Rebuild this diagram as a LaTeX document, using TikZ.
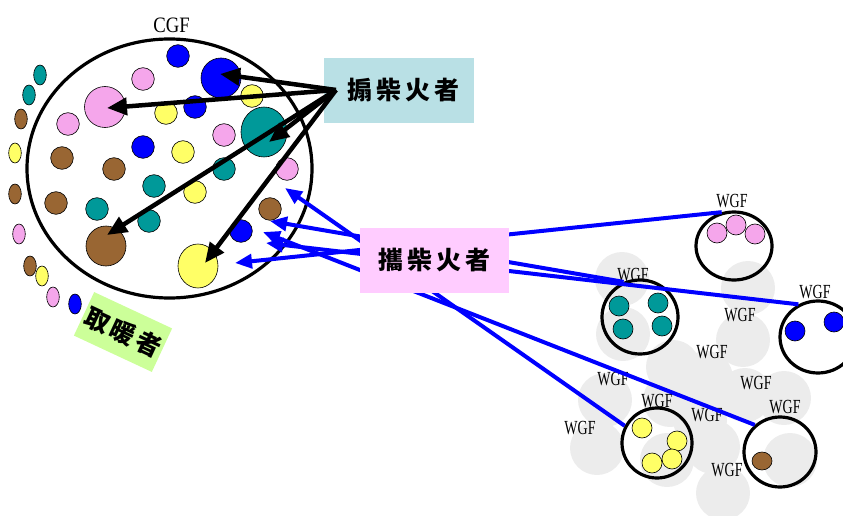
\documentclass[tikz,border=0pt]{standalone}
\usepackage{fontspec}
\setmainfont{Liberation Serif}
\newfontfamily\cjk{Noto Sans CJK TC}
\usetikzlibrary{arrows.meta,shapes.geometric}
\definecolor{pinkc}{RGB}{245,166,235}
\definecolor{yellowc}{RGB}{255,255,102}
\definecolor{tealc}{RGB}{0,153,153}
\definecolor{brownc}{RGB}{153,102,51}
\definecolor{bluec}{RGB}{0,0,255}
\definecolor{boxa}{RGB}{185,224,229}
\definecolor{boxb}{RGB}{255,204,255}
\definecolor{boxc}{RGB}{204,255,153}
\definecolor{blobgray}{RGB}{236,236,236}
\begin{document}
\begin{tikzpicture}[x=1pt,y=-1pt,
  dotc/.style={draw=black,line width=0.6pt},
  wgfc/.style={draw=black,line width=3.2pt,ellipse,inner sep=0},
  lbl/.style={font=\fontsize{20}{20}\selectfont,xscale=0.7,inner sep=0},
  blob/.style={fill=blobgray},
  blk/.style={draw=black,line width=4.5pt,-{Triangle[length=20pt,width=17pt]}},
  blu/.style={draw=bluec,line width=4pt},
  bluarr/.style={blu,-{Triangle[length=17pt,width=14pt]}},
  cjkbox/.style={font=\cjk\bfseries\fontsize{25}{25}\selectfont,inner sep=0,anchor=center}]
\useasboundingbox (0,0) rectangle (843,516);

% gray background blobs
\foreach \p in {(622,279),(623,334),(673,367),(748,288),(743,340),(706,378),(784,398),(713,447),(790,460),(723,493),(605,400),(597,448),(667,460),(670,400),(745,395),(700,420)}
  \fill[blob] \p circle (27);

% CGF ellipse
\node[draw=black,line width=3.2pt,ellipse,minimum width=285,minimum height=259,inner sep=0] (cgf) at (169.5,168.5) {};
\node[font=\fontsize{22}{22}\selectfont,xscale=0.85,inner sep=0] (cgflbl) at (171.5,25.5) {CGF};

% dots inside CGF
\foreach \x/\y/\c in {178/56/bluec,143/79/pinkc,252/96/yellowc,195/107/bluec,166/113/yellowc,68/124/pinkc,224/135/pinkc,143/147/bluec,183/152/yellowc,62/158/brownc,114/169/brownc,287/169/pinkc,224/169/tealc,154/186/tealc,195/192/yellowc,56/203/brownc,97/209/tealc,270/209/brownc,149/221/tealc,241/231/bluec}
  \filldraw[dotc,fill=\c] (\x,\y) circle (11.3);
% big dots
\filldraw[dotc,fill=bluec] (221,78) circle (20);
\filldraw[dotc,fill=pinkc] (105,107) circle (20.5);
\filldraw[dotc,fill=tealc] (264,132) ellipse (23 and 25);
\filldraw[dotc,fill=brownc] (106,246) circle (20);
\filldraw[dotc,fill=yellowc] (198,266) ellipse (20 and 22);

% outside small ellipses
\foreach \x/\y/\c in {40/75/tealc,29/95/tealc,21/119/brownc,15/153/yellowc,15/194/brownc,19/234/pinkc,30/266/brownc,42/276/yellowc,53/297/pinkc,75/304/bluec}
  \filldraw[dotc,fill=\c] (\x,\y) ellipse (6.3 and 10);

% tips inside CGF
\coordinate (tBlue) at (220,74);
\coordinate (tPink) at (107,108);
\coordinate (tTeal) at (269,142);
\coordinate (tBrown) at (107,235);
\coordinate (tYellow) at (205,263);
\coordinate (b1) at (285,188);
\coordinate (b2) at (270,221);
\coordinate (b3) at (263,232);
\coordinate (b4) at (266,243);
\coordinate (b5) at (235,263);

% WGF circles
\node[wgfc,minimum width=76,minimum height=68] (wpink) at (734,246) {};
\node[wgfc,minimum width=76,minimum height=74] (wteal) at (640,317) {};
\node[wgfc,minimum width=76,minimum height=72] (wblue) at (818,337) {};
\node[wgfc,minimum width=70,minimum height=70] (wyellow) at (657,443) {};
\node[wgfc,minimum width=72,minimum height=70] (wbrown) at (780,452) {};

% dots in WGF
\foreach \x/\y in {717/233,736/225,755/234} \filldraw[dotc,fill=pinkc] (\x,\y) circle (10);
\foreach \x/\y in {619/306,658/303,623/329,662/326} \filldraw[dotc,fill=tealc] (\x,\y) circle (10);
\foreach \x/\y in {795/331,834/322} \filldraw[dotc,fill=bluec] (\x,\y) circle (10);
\foreach \x/\y in {642/428,677/441,652/463,672/459} \filldraw[dotc,fill=yellowc] (\x,\y) circle (10);
\filldraw[dotc,fill=brownc] (762,461) ellipse (10 and 9);

% WGF labels
\node[lbl] (l1) at (732,201) {WGF};
\node[lbl] (l2) at (633,275) {WGF};
\node[lbl] (l3) at (815,292) {WGF};
\node[lbl] (l4) at (657,401) {WGF};
\node[lbl] (l5) at (785,407) {WGF};
\node[lbl] (l6) at (740,315) {WGF};
\node[lbl] (l7) at (712,352) {WGF};
\node[lbl] (l8) at (613,379) {WGF};
\node[lbl] (l9) at (756,383) {WGF};
\node[lbl] (l10) at (707,415) {WGF};
\node[lbl] (l11) at (580,428) {WGF};
\node[lbl] (l12) at (727,470) {WGF};

% blue connectors WGF -> CGF
\draw[bluarr] (wpink.110) -- (b5);
\draw[bluarr] (wteal.115) -- (b2);
\draw[bluarr] (wblue.121) -- (b4);
\draw[bluarr] (wyellow.152) -- (b1);
\draw[bluarr] (wbrown.133) -- (b3);

% carrying box
\node[fill=boxb,minimum width=149,minimum height=65,cjkbox] (carry) at (434.5,260.5) {攜\hspace{4pt}柴\hspace{4pt}火\hspace{4pt}者};

% fanning box
\node[fill=boxa,minimum width=150,minimum height=65,cjkbox] (fan) at (399,90.5) {\hspace{8pt}搧\hspace{4pt}柴\hspace{4pt}火\hspace{4pt}者};
\coordinate (fo) at (336,90);
\draw[blk] (fo) -- (tBlue);
\draw[blk] (fo) -- (tPink);
\draw[blk] (fo) -- (tTeal);
\draw[blk] (fo) -- (tBrown);
\draw[blk] (fo) -- (tYellow);

% warmers box
\node[fill=boxc,minimum width=86,minimum height=48,cjkbox,rotate=-25] (warm) at (123,332) {取\hspace{3pt}暖\hspace{3pt}者};
\end{tikzpicture}
\end{document}
